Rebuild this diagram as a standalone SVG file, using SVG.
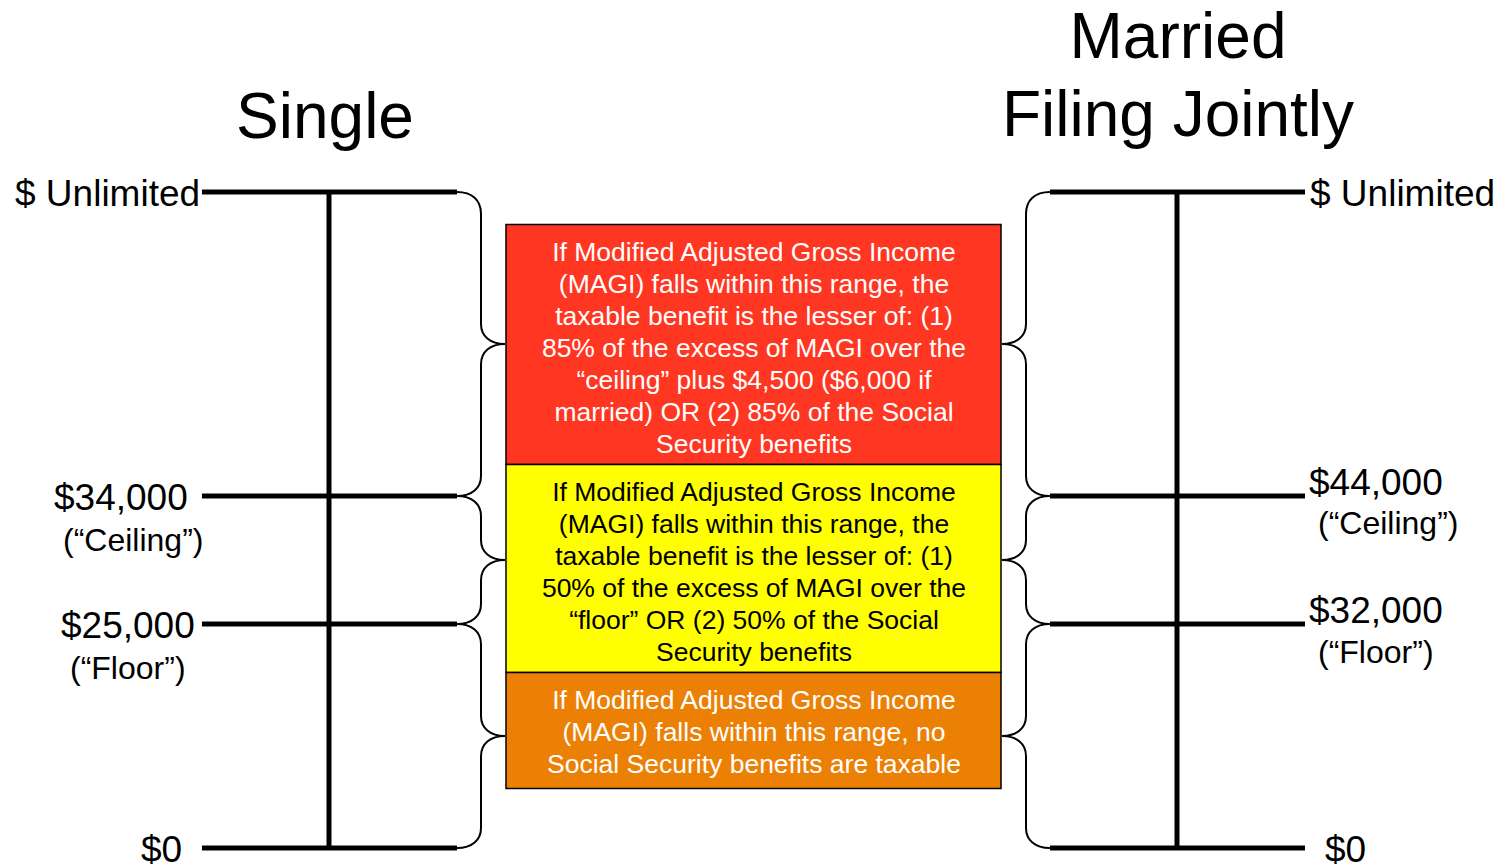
<svg xmlns="http://www.w3.org/2000/svg" width="1501" height="867" viewBox="0 0 1501 867">
<style>
text{font-family:"Liberation Sans",Arial,sans-serif;fill:#000}
.title{font-size:64px;text-anchor:middle}
.val{font-size:37px}
.sub{font-size:32px}
.box{font-size:26.5px;text-anchor:middle}
.w{fill:#fff}
.axis{stroke:#000;stroke-width:5;fill:none}
.brace{stroke:#000;stroke-width:2;fill:none}
.bx{stroke:#000;stroke-width:1.5}
</style>
<rect width="1501" height="867" fill="#fff"/>
<g id="titles">
<text class="title" x="325" y="138">Single</text>
<text class="title" x="1178" y="58">Married</text>
<text class="title" x="1178" y="136">Filing Jointly</text>
</g>
<g id="single-axis">
<path class="axis" d="M202,192H457M202,496H457M202,624H457M202,848H457M329,192V848"/>
<text class="val" x="15" y="206">$ Unlimited</text>
<text class="val" x="54" y="510">$34,000</text>
<text class="sub" x="63" y="551">(“Ceiling”)</text>
<text class="val" x="61" y="638">$25,000</text>
<text class="sub" x="70" y="679">(“Floor”)</text>
<text class="val" x="141" y="862">$0</text>
</g>
<g id="married-axis">
<path class="axis" d="M1050,192H1305M1050,496H1305M1050,624H1305M1050,848H1305M1177,192V848"/>
<text class="val" x="1310" y="206">$ Unlimited</text>
<text class="val" x="1309" y="495">$44,000</text>
<text class="sub" x="1318" y="534">(“Ceiling”)</text>
<text class="val" x="1309" y="623">$32,000</text>
<text class="sub" x="1318" y="663">(“Floor”)</text>
<text class="val" x="1325" y="862">$0</text>
</g>
<g id="connectors">
<path class="brace" d="M457,192C472,192 481,200 481,214V324C481,336 490,344 505,344C490,344 481,352 481,364V476C481,488 472,496 457,496"/>
<path class="brace" d="M457,496C472,496 481,504 481,516V540C481,552 490,560 505,560C490,560 481,568 481,580V604C481,616 472,624 457,624"/>
<path class="brace" d="M457,624C472,624 481,632 481,644V716C481,728 490,736 505,736C490,736 481,744 481,756V828C481,840 472,848 457,848"/>
<path class="brace" d="M1050,192C1035,192 1026,200 1026,214V324C1026,336 1017,344 1002,344C1017,344 1026,352 1026,364V476C1026,488 1035,496 1050,496"/>
<path class="brace" d="M1050,496C1035,496 1026,504 1026,516V540C1026,552 1017,560 1002,560C1017,560 1026,568 1026,580V604C1026,616 1035,624 1050,624"/>
<path class="brace" d="M1050,624C1035,624 1026,632 1026,644V716C1026,728 1017,736 1002,736C1017,736 1026,744 1026,756V828C1026,840 1035,848 1050,848"/>
</g>
<g id="box-red">
<rect class="bx" x="506" y="224.5" width="495" height="240" fill="#FF3621"/>
<text class="box w" x="754"><tspan x="754" y="261">If Modified Adjusted Gross Income</tspan><tspan x="754" y="293">(MAGI) falls within this range, the</tspan><tspan x="754" y="325">taxable benefit is the lesser of: (1)</tspan><tspan x="754" y="357">85% of the excess of MAGI over the</tspan><tspan x="754" y="389">“ceiling” plus $4,500 ($6,000 if</tspan><tspan x="754" y="421">married) OR (2) 85% of the Social</tspan><tspan x="754" y="453">Security benefits</tspan></text>
</g>
<g id="box-yellow">
<rect class="bx" x="506" y="464.5" width="495" height="208" fill="#FFFF00"/>
<text class="box" x="754"><tspan x="754" y="501">If Modified Adjusted Gross Income</tspan><tspan x="754" y="533">(MAGI) falls within this range, the</tspan><tspan x="754" y="565">taxable benefit is the lesser of: (1)</tspan><tspan x="754" y="597">50% of the excess of MAGI over the</tspan><tspan x="754" y="629">“floor” OR (2) 50% of the Social</tspan><tspan x="754" y="661">Security benefits</tspan></text>
</g>
<g id="box-orange">
<rect class="bx" x="506" y="672.5" width="495" height="116" fill="#EC8005"/>
<text class="box w" x="754"><tspan x="754" y="709">If Modified Adjusted Gross Income</tspan><tspan x="754" y="741">(MAGI) falls within this range, no</tspan><tspan x="754" y="773">Social Security benefits are taxable</tspan></text>
</g>
</svg>
